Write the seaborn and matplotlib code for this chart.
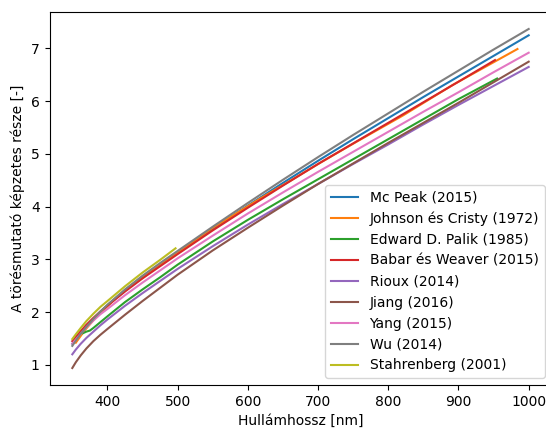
import numpy as np
import pandas as pd
import matplotlib
matplotlib.use("Agg")
import matplotlib.pyplot as plt
import seaborn as sns

# Wavelength grids [nm] and imaginary refractive index values
wl_common = [350, 355, 362, 370, 380, 390, 400, 425, 450, 475, 500, 550, 600, 650, 700, 750, 800, 850, 900, 950, 1000]

mcpeak = [1.40, 1.49, 1.61, 1.74, 1.88, 2.01, 2.13, 2.41, 2.67, 2.90, 3.13, 3.58, 4.02, 4.45, 4.87, 5.28, 5.68, 6.08, 6.47, 6.86, 7.25]

wl_johnson = [355, 368, 381, 397, 413, 430, 451, 471, 496, 521, 549, 582, 617, 659, 704, 756, 821, 892, 984]
johnson = [1.42, 1.66, 1.86, 2.07, 2.28, 2.46, 2.66, 2.87, 3.09, 3.32, 3.59, 3.86, 4.15, 4.48, 4.84, 5.24, 5.73, 6.31, 6.99]

wl_palik = [365, 370, 375, 380, 390, 400, 425, 450, 475, 500, 550, 600, 650, 700, 750, 800, 850, 900, 955]
palik = [1.60, 1.63, 1.65, 1.70, 1.81, 1.92, 2.19, 2.43, 2.66, 2.90, 3.34, 3.75, 4.14, 4.52, 4.90, 5.28, 5.66, 6.04, 6.43]

wl_babar = [350, 355, 362, 370, 380, 390, 400, 425, 450, 475, 500, 550, 600, 650, 700, 750, 800, 850, 900, 952]
babar = [1.45, 1.53, 1.64, 1.76, 1.89, 2.01, 2.12, 2.39, 2.64, 2.87, 3.10, 3.55, 3.98, 4.40, 4.81, 5.20, 5.59, 5.98, 6.37, 6.78]

rioux = [1.20, 1.29, 1.40, 1.51, 1.63, 1.75, 1.86, 2.12, 2.36, 2.59, 2.82, 3.25, 3.66, 4.05, 4.43, 4.81, 5.18, 5.56, 5.93, 6.29, 6.65]
jiang = [0.94, 1.05, 1.18, 1.31, 1.45, 1.57, 1.68, 1.95, 2.21, 2.46, 2.71, 3.17, 3.60, 4.02, 4.43, 4.82, 5.21, 5.59, 5.97, 6.36, 6.75]
yang = [1.40, 1.48, 1.59, 1.71, 1.84, 1.96, 2.06, 2.32, 2.56, 2.79, 3.02, 3.45, 3.87, 4.27, 4.66, 5.04, 5.42, 5.80, 6.17, 6.55, 6.92]
wu = [1.36, 1.46, 1.59, 1.72, 1.87, 2.01, 2.14, 2.43, 2.69, 2.93, 3.16, 3.62, 4.07, 4.51, 4.94, 5.36, 5.77, 6.18, 6.58, 6.98, 7.37]

wl_stahr = [350, 355, 362, 370, 380, 390, 400, 425, 450, 475, 497]
stahr = [1.49, 1.58, 1.70, 1.83, 1.97, 2.10, 2.21, 2.49, 2.75, 2.99, 3.21]

labels = ["Mc Peak (2015)", "Johnson és Cristy (1972)", "Edward D. Palik (1985)",
          "Babar és Weaver (2015)", "Rioux (2014)", "Jiang (2016)", "Yang (2015)",
          "Wu (2014)", "Stahrenberg (2001)"]

series = [
    (wl_common, mcpeak), (wl_johnson, johnson), (wl_palik, palik),
    (wl_babar, babar), (wl_common, rioux), (wl_common, jiang),
    (wl_common, yang), (wl_common, wu), (wl_stahr, stahr),
]

frames = []
for lab, (x, y) in zip(labels, series):
    frames.append(pd.DataFrame({"wl": x, "k": y, "src": lab}))
df = pd.concat(frames, ignore_index=True)

palette = dict(zip(labels, sns.color_palette("tab10", 9)))

fig = plt.figure(figsize=(5.46, 4.28), dpi=100)
ax = fig.add_axes([49.5 / 546, 1 - 385 / 428, (551.5 - 49.5) / 546, (385 - 12) / 428])

sns.lineplot(data=df, x="wl", y="k", hue="src", hue_order=labels, palette=palette,
             ax=ax, linewidth=1.5, estimator=None, sort=True)

ax.set_xlim(317.5, 1032.5)
ax.set_ylim(0.618, 7.692)
ax.set_xticks([400, 500, 600, 700, 800, 900, 1000])
ax.set_yticks([1, 2, 3, 4, 5, 6, 7])
ax.set_xlabel("Hullámhossz [nm]", fontsize=10)
ax.set_ylabel("A törésmutató képzetes része [-]", fontsize=10)
ax.tick_params(labelsize=10)
# the right spine lies outside the cropped reference image
ax.spines["right"].set_visible(False)

handles, labs = ax.get_legend_handles_labels()
ax.legend(handles, labs, loc="lower right", fontsize=10)

fig.savefig("out.png", dpi=100)
